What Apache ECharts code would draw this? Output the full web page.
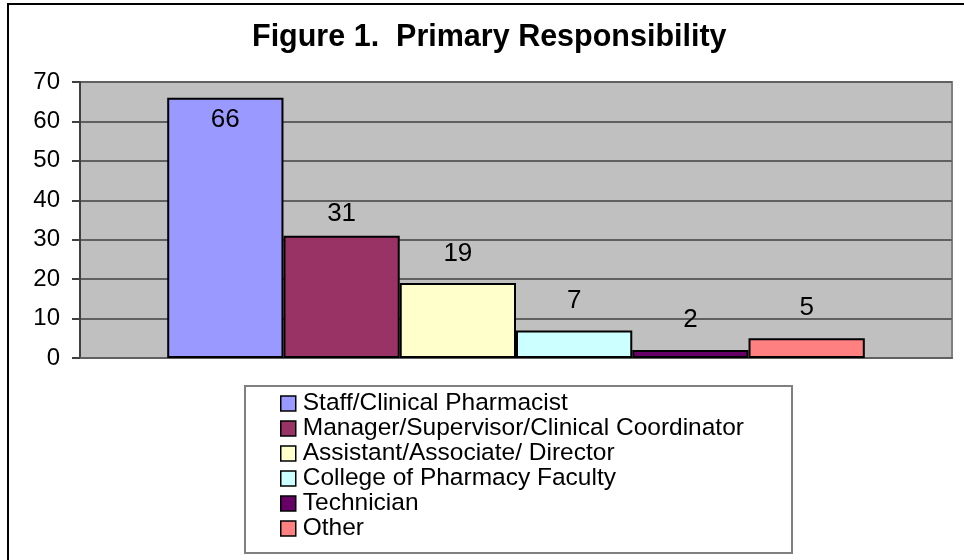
<!DOCTYPE html>
<html><head><meta charset="utf-8">
<script src="https://cdn.jsdelivr.net/npm/echarts@6/dist/echarts.min.js"></script>
<style>html,body{margin:0;padding:0;background:#fff}#c{width:964px;height:560px}</style>
</head><body><div id="c"></div>
<script>
var categories = ['Staff/Clinical Pharmacist','Manager/Supervisor/Clinical Coordinator','Assistant/Associate/ Director','College of Pharmacy Faculty','Technician','Other'];
var values = [66, 31, 19, 7, 2, 5];
var colors = ['#9999FF','#993366','#FFFFCC','#CCFFFF','#660066','#FF8080'];
var yTicks = [0, 10, 20, 30, 40, 50, 60, 70];

var FONT = '"Liberation Sans", Arial, sans-serif';
var labelCfg = [
  {position:'insideTop', distance:9},
  {position:'top', distance:9},
  {position:'top', distance:16},
  {position:'top', distance:17},
  {position:'top', distance:17},
  {position:'top', distance:17}
];
var series = categories.map(function(name, i){
  return {
    name: name, type: 'bar', data: [values[i]],
    barGap: '0%', barCategoryGap: '20%',
    itemStyle: {color: colors[i], borderColor: '#000', borderWidth: 2},
    label: {show: true, position: labelCfg[i].position, distance: labelCfg[i].distance,
      color: '#000', fontSize: 26, fontFamily: FONT, lineHeight: 26},
    emphasis: {disabled: true}
  };
});
var chart = echarts.init(document.getElementById('c'), null, {renderer:'canvas'});
chart.setOption({
  animation: false,
  backgroundColor: '#fff',
  title: {text: 'Figure 1.  Primary Responsibility', left: 252, top: 22, padding: 0,
    textStyle: {fontFamily: FONT, fontWeight: 'bold', fontSize: 30.5, color: '#000', lineHeight: 32}},
  graphic: [
    {type:'rect', shape:{x:8, y:4, width:1000, height:600}, style:{fill:null, stroke:'#000', lineWidth:2}, z:-10},
    {type:'rect', shape:{x:245, y:386, width:547, height:167}, style:{fill:'#fff', stroke:'#808080', lineWidth:2}, z:-5}
  ],
  legend: {
    orient: 'vertical', left: 280, top: 391, padding: 0, itemGap: 0, itemWidth: 15, itemHeight: 15,
    icon: 'rect', selectedMode: false,
    itemStyle: {borderColor: '#000', borderWidth: 1.5},
    textStyle: {fontFamily: FONT, fontSize: 24.5, color: '#000', lineHeight: 24.6, padding:[0,0,0,2]},
    data: categories
  },
  grid: {left: 80, right: 12, top: 82, bottom: 202, show: true, backgroundColor: '#C0C0C0',
    borderColor: '#808080', borderWidth: 2, containLabel: false},
  xAxis: {type: 'category', data: [''], axisTick: {show: false}, axisLabel: {show: false},
    axisLine: {lineStyle: {color: '#606060', width: 2}}},
  yAxis: {type: 'value', min: yTicks[0], max: yTicks[yTicks.length-1], interval: 10,
    axisLine: {show: true, lineStyle: {color: '#404040', width: 2}},
    axisTick: {show: true, length: 8, lineStyle: {color: '#404040', width: 2}},
    axisLabel: {fontFamily: FONT, fontSize: 24, color: '#000', margin: 20},
    splitLine: {lineStyle: {color: '#606060', width: 2}}},
  series: series
});
</script></body></html>
